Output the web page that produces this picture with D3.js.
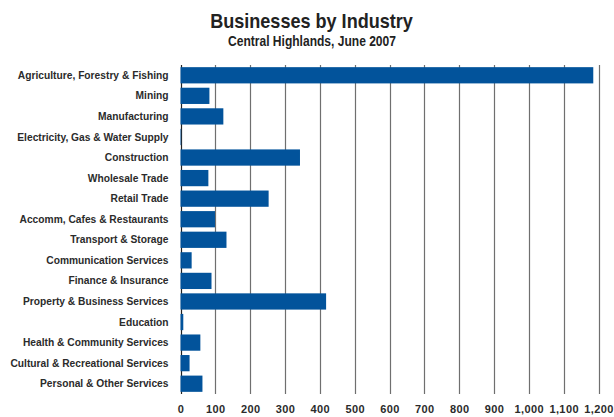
<!DOCTYPE html>
<html>
<head>
<meta charset="utf-8">
<script src="https://cdn.jsdelivr.net/npm/d3@7"></script>
<style>
  html, body { margin: 0; padding: 0; background: #fff; }
  svg { display: block; }
</style>
</head>
<body>
<svg id="chart" width="614" height="417"></svg>
<script>
// Number of businesses per industry, Central Highlands, June 2007
const industries = [
  "Agriculture, Forestry & Fishing",
  "Mining",
  "Manufacturing",
  "Electricity, Gas & Water Supply",
  "Construction",
  "Wholesale Trade",
  "Retail Trade",
  "Accomm, Cafes & Restaurants",
  "Transport & Storage",
  "Communication Services",
  "Finance & Insurance",
  "Property & Business Services",
  "Education",
  "Health & Community Services",
  "Cultural & Recreational Services",
  "Personal & Other Services"
];
const businesses = [1185, 83, 123, 2, 343, 80, 253, 99, 132, 32, 89, 418, 8, 57, 26, 63];
const tickValues = [0, 100, 200, 300, 400, 500, 600, 700, 800, 900, 1000, 1100, 1200];

const titleText = "Businesses by Industry";
const subtitleText = "Central Highlands, June 2007";

const svg = d3.select("#chart");
const plot = { left: 180.5, right: 598.5, top: 65, bottom: 394 };
const textColor = "#2b2b2b";
const fontFamily = "'Liberation Sans', Arial, sans-serif";

// Narrow the set text horizontally to get a condensed face
function condense(sel, factor) {
  sel.each(function () {
    const w = this.getComputedTextLength();
    d3.select(this)
      .attr("textLength", w * factor)
      .attr("lengthAdjust", "spacingAndGlyphs");
  });
}

const x = d3.scaleLinear().domain([0, 1200]).range([plot.left, plot.right]);
const y = d3.scaleBand().domain(industries).range([plot.top, plot.bottom])
  .paddingInner(0.21).paddingOuter(0.105);

// Title and subtitle
svg.append("text")
  .attr("x", 311.5).attr("y", 28)
  .attr("text-anchor", "middle")
  .attr("font-family", fontFamily)
  .attr("font-size", 21)
  .attr("font-weight", "bold")
  .attr("fill", "#222")
  .text(titleText)
  .call(condense, 0.86);
svg.append("text")
  .attr("x", 312).attr("y", 46)
  .attr("text-anchor", "middle")
  .attr("font-family", fontFamily)
  .attr("font-size", 14)
  .attr("font-weight", "bold")
  .attr("fill", "#222")
  .text(subtitleText)
  .call(condense, 0.86);

// Vertical gridlines
svg.append("g")
  .selectAll("line")
  .data(tickValues)
  .join("line")
  .attr("x1", d => Math.round(x(d)) + 0.5)
  .attr("x2", d => Math.round(x(d)) + 0.5)
  .attr("y1", plot.top)
  .attr("y2", plot.bottom)
  .attr("stroke", d => d === 0 ? "#222" : "#6f6f6f")
  .attr("stroke-width", 1.2);

// Bars
svg.append("g")
  .selectAll("rect")
  .data(industries)
  .join("rect")
  .attr("x", x(0))
  .attr("y", d => y(d))
  .attr("width", (d, i) => x(businesses[i]) - x(0))
  .attr("height", y.bandwidth())
  .attr("fill", "#02539b");

// Category labels
const yAxis = d3.axisLeft(y).tickSize(0).tickPadding(0);
const gy = svg.append("g")
  .attr("transform", `translate(${plot.left - 12},0)`)
  .call(yAxis);
gy.select(".domain").remove();
gy.selectAll("text")
  .attr("font-family", fontFamily)
  .attr("font-size", 11)
  .attr("font-weight", "bold")
  .attr("fill", textColor)
  .call(condense, 0.93);

// Value axis labels
const xAxis = d3.axisBottom(x).tickValues(tickValues).tickSize(0).tickPadding(0)
  .tickFormat(d3.format(","));
const gx = svg.append("g")
  .attr("transform", `translate(0,${plot.bottom + 11})`)
  .call(xAxis);
gx.select(".domain").remove();
gx.selectAll("text")
  .attr("font-family", fontFamily)
  .attr("font-size", 11)
  .attr("font-weight", "bold")
  .attr("letter-spacing", 0.4)
  .attr("fill", textColor);
</script>
</body>
</html>
